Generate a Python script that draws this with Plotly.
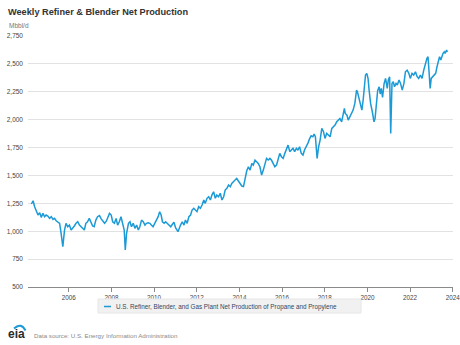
import pandas as pd
import plotly.graph_objects as go

# ---- data (decimal year, Mbbl/d) ----
years_2004_2007 = [2004.25, 2004.33, 2004.40, 2004.48, 2004.56, 2004.64, 2004.71, 2004.79, 2004.87, 2004.94,
                   2005.02, 2005.10, 2005.18, 2005.26, 2005.33, 2005.41, 2005.49, 2005.57, 2005.64, 2005.72,
                   2005.80, 2005.87, 2005.95, 2006.03, 2006.11, 2006.19, 2006.26, 2006.34, 2006.42, 2006.50,
                   2006.57, 2006.65, 2006.73, 2006.80, 2006.88, 2006.96, 2007.04, 2007.12, 2007.19, 2007.27,
                   2007.35]
values_2004_2007 = [1244, 1273, 1220, 1175, 1145, 1166, 1124, 1160, 1130, 1145,
                    1136, 1115, 1130, 1106, 1115, 1094, 1085, 1070, 981, 861,
                    1010, 1070, 1040, 1055, 1010, 1025, 1047, 1071, 1085, 1055,
                    1040, 1026, 1011, 1071, 1085, 1115, 1071, 1047, 1040, 1100,
                    1130]

years_2007_2010 = [2007.44, 2007.52, 2007.60, 2007.68, 2007.76, 2007.84, 2007.91, 2007.99, 2008.06, 2008.14,
                   2008.22, 2008.29, 2008.37, 2008.45, 2008.53, 2008.60, 2008.65, 2008.71, 2008.80, 2008.87,
                   2008.94, 2009.02, 2009.10, 2009.18, 2009.26, 2009.33, 2009.41, 2009.49, 2009.57, 2009.64,
                   2009.72, 2009.80, 2009.87, 2009.95, 2010.03, 2010.11, 2010.19, 2010.26, 2010.33, 2010.39,
                   2010.47, 2010.54, 2010.62]
values_2007_2010 = [1140, 1110, 1085, 1071, 1090, 1120, 1160, 1145, 1085, 1071,
                    1115, 1055, 1085, 1130, 1071, 1011, 832, 981, 1071, 1085,
                    1040, 1071, 1026, 1055, 1011, 1040, 1100, 1085, 1055, 1071,
                    1076, 1071, 1055, 1040, 1071, 1100, 1130, 1175, 1145, 1085,
                    1071, 1085, 1071]

years_2010_2013 = [2010.70, 2010.78, 2010.85, 2010.93, 2011.01, 2011.12, 2011.24, 2011.32, 2011.40, 2011.47,
                   2011.55, 2011.63, 2011.71, 2011.78, 2011.86, 2011.94, 2012.01, 2012.09, 2012.17, 2012.25,
                   2012.33, 2012.40, 2012.48, 2012.56, 2012.64, 2012.71, 2012.79, 2012.87, 2012.94, 2013.02,
                   2013.10, 2013.18, 2013.26, 2013.33, 2013.41, 2013.49, 2013.57, 2013.64, 2013.72, 2013.80,
                   2013.87]
values_2010_2013 = [1055, 1040, 1060, 1080, 1030, 996, 1055, 1085, 1055, 1100,
                    1071, 1130, 1145, 1190, 1205, 1190, 1175, 1220, 1205, 1235,
                    1280, 1250, 1295, 1309, 1280, 1324, 1354, 1295, 1324, 1309,
                    1340, 1280, 1309, 1369, 1384, 1414, 1399, 1429, 1444, 1459,
                    1474]

years_2014_2017 = [2013.95, 2014.03, 2014.11, 2014.19, 2014.27, 2014.34, 2014.42, 2014.50, 2014.58, 2014.65,
                   2014.73, 2014.81, 2014.88, 2014.96, 2015.04, 2015.12, 2015.19, 2015.27, 2015.35, 2015.43,
                   2015.50, 2015.58, 2015.66, 2015.74, 2015.81, 2015.89, 2015.97, 2016.05, 2016.13, 2016.20,
                   2016.28, 2016.36, 2016.44, 2016.51, 2016.59, 2016.67, 2016.74, 2016.82, 2016.90, 2016.98,
                   2017.05, 2017.13]
values_2014_2017 = [1450, 1429, 1405, 1400, 1495, 1540, 1578, 1548, 1608, 1593,
                    1638, 1623, 1608, 1578, 1504, 1548, 1593, 1653, 1638, 1653,
                    1638, 1608, 1578, 1593, 1653, 1698, 1668, 1653, 1698, 1728,
                    1772, 1713, 1728, 1743, 1713, 1743, 1728, 1757, 1698, 1683,
                    1728, 1757]

years_2017_2020 = [2017.21, 2017.29, 2017.36, 2017.44, 2017.50, 2017.56, 2017.64, 2017.71, 2017.78, 2017.86,
                   2017.94, 2018.01, 2018.09, 2018.17, 2018.25, 2018.33, 2018.40, 2018.48, 2018.56, 2018.64,
                   2018.71, 2018.79, 2018.87, 2018.92, 2018.96, 2019.04, 2019.10, 2019.18, 2019.26, 2019.33,
                   2019.41, 2019.49, 2019.53, 2019.61, 2019.66, 2019.74, 2019.80, 2019.87, 2019.91, 2019.97,
                   2020.03, 2020.08, 2020.15, 2020.23, 2020.31, 2020.36, 2020.42]
values_2017_2020 = [1790, 1830, 1855, 1847, 1870, 1847, 1653, 1757, 1817, 1922,
                    1892, 1832, 1877, 1862, 1847, 1922, 1936, 1951, 1981, 1996,
                    2011, 1981, 2041, 2101, 2056, 2041, 1996, 2026, 2056, 2086,
                    2146, 2265, 2250, 2191, 2146, 2086, 2176, 2310, 2400, 2415,
                    2370, 2265, 2146, 2071, 1981, 2011, 2146]

years_2020_2023 = [2020.48, 2020.55, 2020.60, 2020.65, 2020.71, 2020.78, 2020.85, 2020.93, 2020.98, 2021.04,
                   2021.09, 2021.15, 2021.21, 2021.27, 2021.34, 2021.40, 2021.48, 2021.55, 2021.63, 2021.71,
                   2021.78, 2021.86, 2021.94, 2022.01, 2022.09, 2022.17, 2022.25, 2022.33, 2022.40, 2022.48,
                   2022.56, 2022.64, 2022.71, 2022.79, 2022.84, 2022.88, 2022.94, 2022.99, 2023.05, 2023.12,
                   2023.20, 2023.26, 2023.33, 2023.38, 2023.44, 2023.49, 2023.54, 2023.60, 2023.64, 2023.71,
                   2023.75]
values_2020_2023 = [2260, 2295, 2230, 2280, 2200, 2320, 2370, 2280, 2355, 2385,
                    1877, 2325, 2340, 2295, 2325, 2310, 2355, 2325, 2265, 2325,
                    2429, 2444, 2415, 2370, 2415, 2400, 2429, 2385, 2370, 2400,
                    2370, 2444, 2504, 2549, 2564, 2474, 2280, 2370, 2385, 2400,
                    2415, 2474, 2519, 2564, 2534, 2578, 2593, 2608, 2593, 2623,
                    2608]

series_name = "U.S. Refiner, Blender, and Gas Plant Net Production of Propane and Propylene"
title_text = "Weekly Refiner & Blender Net Production"
unit_text = "Mbbl/d"
source_text = "Data source: U.S. Energy Information Administration"
y_ticks = [500, 750, 1000, 1250, 1500, 1750, 2000, 2250, 2500, 2750]
x_tick_years = [2006, 2008, 2010, 2012, 2014, 2016, 2018, 2020, 2022, 2024]

years = (years_2004_2007 + years_2007_2010 + years_2010_2013 +
         years_2014_2017 + years_2017_2020 + years_2020_2023)
values = (values_2004_2007 + values_2007_2010 + values_2010_2013 +
          values_2014_2017 + values_2017_2020 + values_2020_2023)


def to_date(y):
    yr = int(y)
    return pd.Timestamp(yr, 1, 1) + pd.Timedelta(days=(y - yr) * 365.25)


dates = [to_date(y) for y in years]

W, H = 460, 345
L, R, T, B = 28, 7, 36, 58
PW, PH = W - L - R, H - T - B


def px(x):
    return (x - L) / PW


def py(y):
    return (H - B - y) / PH


BLUE = "#1b9ad6"
FONT = "Liberation Sans, Arial, sans-serif"

fig = go.Figure()
fig.add_trace(go.Scatter(x=dates, y=values, mode="lines", name=series_name,
                         line=dict(color=BLUE, width=1.5), showlegend=False))

fig.update_layout(
    width=W, height=H,
    margin=dict(l=L, r=R, t=T, b=B),
    paper_bgcolor="white", plot_bgcolor="white",
    font=dict(family=FONT, color="#444"),
    xaxis=dict(
        type="date",
        range=[to_date(2004.09), to_date(2024.012)],
        tickvals=[pd.Timestamp(y, 1, 1) for y in x_tick_years],
        ticktext=[str(y) for y in x_tick_years],
        showgrid=False, showline=True, linecolor="#8a8a8a", linewidth=1,
        ticks="outside", ticklen=4, tickcolor="#8a8a8a",
        tickfont=dict(size=6.3, color="#444"),
        ticklabeloverflow="allow",
        automargin=False, zeroline=False,
    ),
    yaxis=dict(
        range=[500, 2750], tickvals=y_ticks, tickformat=",d",
        showgrid=True, gridcolor="#e2e2e2", gridwidth=1,
        zeroline=False, showline=False, ticks="",
        tickfont=dict(size=6.5, color="#444"),
        automargin=False, ticklabelstandoff=4,
    ),
)

shapes = []
# legend box
shapes.append(dict(type="rect", xref="paper", yref="paper",
                   x0=px(98), x1=px(361), y0=py(313), y1=py(299),
                   fillcolor="#f1f1f1", line=dict(color="#e6e6e6", width=1), layer="above"))
shapes.append(dict(type="line", xref="paper", yref="paper",
                   x0=px(104), x1=px(111), y0=py(306.5), y1=py(306.5),
                   line=dict(color=BLUE, width=1.5)))
# eia logo swoosh
shapes.append(dict(type="path", xref="paper", yref="paper",
                   path=f"M {px(14)},{py(328.5)} Q {px(21)},{py(322)} {px(25.5)},{py(330.5)}",
                   line=dict(color=BLUE, width=2)))
fig.update_layout(shapes=shapes)

annotations = [
    dict(text=f"<b>{title_text}</b>", x=px(6), y=py(11.5), xref="paper", yref="paper",
         xanchor="left", yanchor="middle", showarrow=False,
         font=dict(size=9.2, color="#333", family=FONT)),
    dict(text=unit_text, x=px(6.5), y=py(25), xref="paper", yref="paper",
         xanchor="left", yanchor="middle", showarrow=False,
         font=dict(size=6.5, color="#777", family=FONT)),
    dict(text=series_name, x=px(114), y=py(306.5), xref="paper", yref="paper",
         xanchor="left", yanchor="middle", showarrow=False,
         font=dict(size=6.3, color="#34465c", family=FONT)),
    dict(text="<b>eia</b>", x=px(5.5), y=py(334), xref="paper", yref="paper",
         xanchor="left", yanchor="middle", showarrow=False,
         font=dict(size=12, color="#2a2a2a", family=FONT)),
    dict(text=source_text, x=px(31.5), y=py(335.5), xref="paper", yref="paper",
         xanchor="left", yanchor="middle", showarrow=False,
         font=dict(size=6.2, color="#8a8a8a", family=FONT)),
]
fig.update_layout(annotations=annotations)

fig.write_html("out.html")
